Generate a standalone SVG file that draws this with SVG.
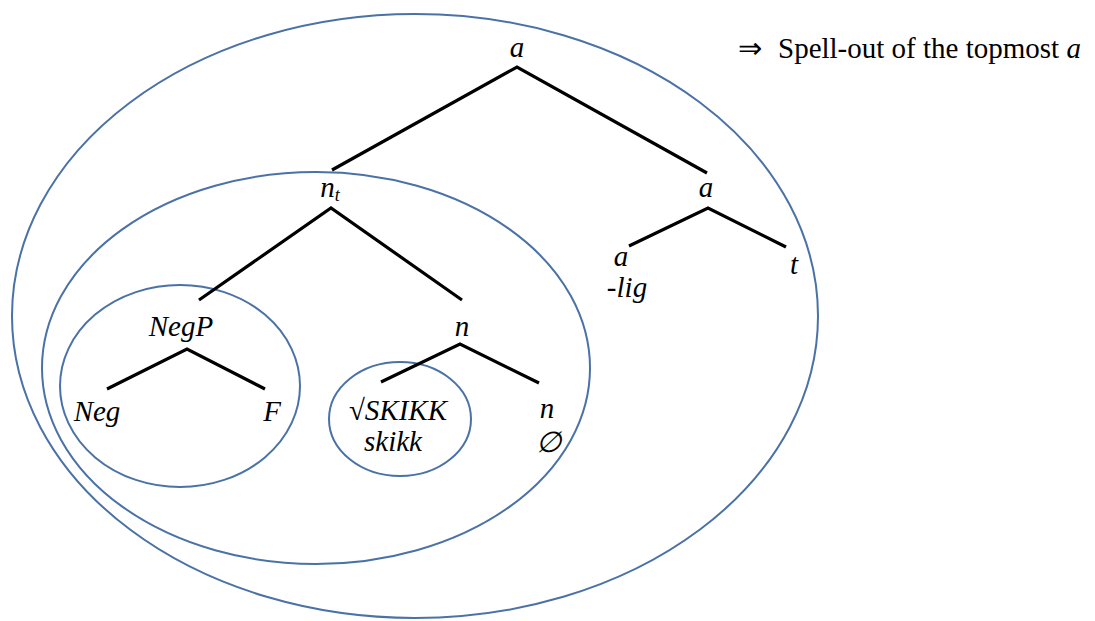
<svg xmlns="http://www.w3.org/2000/svg" width="1095" height="621" viewBox="0 0 1095 621">
<style>
.ring{fill:none;stroke:#4a72a6;stroke-width:2}
.edge{stroke:#000;stroke-width:3.2;stroke-linecap:butt;fill:none}
.lab{font-family:"Liberation Serif",serif;font-style:italic;font-size:29px;fill:#000;text-anchor:middle}
.note{font-family:"Liberation Serif",serif;font-size:29px;fill:#000}
</style>
<rect width="1095" height="621" fill="#fff"/>
<g id="domains">
<ellipse id="ring-outer" class="ring" cx="415" cy="316" rx="403" ry="302"/>
<ellipse id="ring-nt" class="ring" cx="316" cy="368" rx="274" ry="196"/>
<ellipse id="ring-negp" class="ring" cx="180" cy="386" rx="120" ry="101"/>
<ellipse id="ring-root" class="ring" cx="400" cy="419" rx="71" ry="57"/>
</g>
<g id="connectors">
<polyline class="edge" points="332,170 517,67 707,173"/>
<polyline class="edge" points="199,300 331,208 462,300"/>
<polyline class="edge" points="629,246 708,208 786,247"/>
<polyline class="edge" points="107,389 187,349 265,389"/>
<polyline class="edge" points="381,382 460,344 539,383"/>
</g>
<g id="node-a-top"><text class="lab" x="517" y="57">a</text></g>
<g id="node-nt"><text class="lab" x="330" y="197">n<tspan font-size="18" dy="4">t</tspan></text></g>
<g id="node-a-mid"><text class="lab" x="706" y="197">a</text></g>
<g id="node-a-lig"><text class="lab" x="621" y="266">a</text><text class="lab" x="627" y="297">-lig</text></g>
<g id="node-t"><text class="lab" x="794" y="274">t</text></g>
<g id="node-negp"><text class="lab" x="181" y="336">NegP</text></g>
<g id="node-n-mid"><text class="lab" x="462" y="336">n</text></g>
<g id="node-neg"><text class="lab" x="97" y="421">Neg</text></g>
<g id="node-f"><text class="lab" x="272" y="421">F</text></g>
<g id="node-skikk"><text class="lab" x="398" y="420">√SKIKK</text><text class="lab" x="393" y="451">skikk</text></g>
<g id="node-n-zero"><text class="lab" x="547" y="418">n</text><text class="lab" x="548" y="452">∅</text></g>
<g id="note"><text class="note" x="738" y="58">⇒</text><text class="note" x="778" y="58">Spell-out of the topmost <tspan font-style="italic">a</tspan></text></g>
</svg>
